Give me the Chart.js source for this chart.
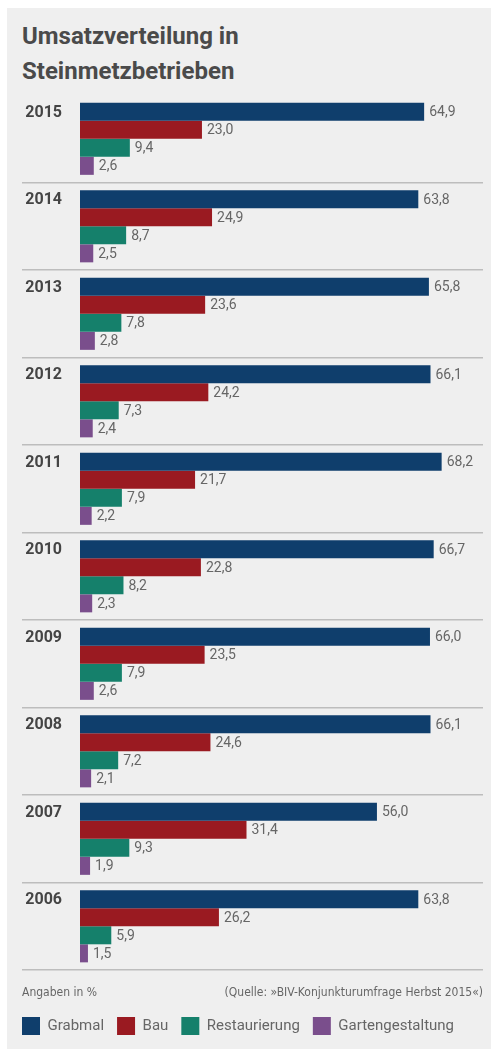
<!DOCTYPE html>
<html lang="de">
<head>
<meta charset="utf-8">
<script src="https://cdn.jsdelivr.net/npm/chart.js@4.4.1/dist/chart.umd.min.js"></script>
<style>
  html, body { margin: 0; padding: 0; background: #fff; }
  body { width: 491px; height: 1055px; position: relative; overflow: hidden; }
  #panel { position: absolute; left: 7px; top: 8px; width: 484px; height: 1041px; background: #efefef; }
  #title {
    position: absolute; left: 22px; top: 19px;
    font: bold 24px Roboto, "Open Sans", sans-serif; line-height: 35px; color: #4a4a4a;
  }
  #chart { position: absolute; left: 0; top: 0; }
</style>
</head>
<body>
<div id="panel"></div>
<div id="title">Umsatzverteilung in<br>Steinmetzbetrieben</div>
<canvas id="chart" width="491" height="1055"></canvas>
<script>
const years = ["2015", "2014", "2013", "2012", "2011", "2010", "2009", "2008", "2007", "2006"];
const grabmal = [64.9, 63.8, 65.8, 66.1, 68.2, 66.7, 66.0, 66.1, 56.0, 63.8];
const bau = [23.0, 24.9, 23.6, 24.2, 21.7, 22.8, 23.5, 24.6, 31.4, 26.2];
const restaurierung = [9.4, 8.7, 7.8, 7.3, 7.9, 8.2, 7.9, 7.2, 9.3, 5.9];
const garten = [2.6, 2.5, 2.8, 2.4, 2.2, 2.3, 2.6, 2.1, 1.9, 1.5];
const footLeft = "Angaben in %";
const footRight = "(Quelle: »BIV-Konjunkturumfrage Herbst 2015«)";

const textGrey = "#666";
const smallFont = '"Liberation Sans Narrow", "DejaVu Sans Condensed", sans-serif';

// value labels right of each bar, german decimal comma
const valueLabels = {
  id: "valueLabels",
  afterDatasetsDraw(chart) {
    const { ctx } = chart;
    ctx.save();
    ctx.font = "14px Roboto, sans-serif";
    ctx.fillStyle = textGrey;
    ctx.textAlign = "left";
    ctx.textBaseline = "middle";
    chart.data.datasets.forEach((ds, i) => {
      chart.getDatasetMeta(i).data.forEach((bar, j) => {
        const txt = ds.data[j].toFixed(1).replace(".", ",");
        ctx.fillText(txt, bar.x + 5, bar.y + 1);
      });
    });
    ctx.restore();
  },
};

const footnote = {
  id: "footnote",
  afterDraw(chart) {
    const { ctx, chartArea } = chart;
    const y = chartArea.bottom + 23;
    ctx.save();
    ctx.font = "12px " + smallFont;
    ctx.fillStyle = textGrey;
    ctx.textBaseline = "middle";
    ctx.textAlign = "left";
    ctx.fillText(footLeft, 22, y);
    ctx.textAlign = "right";
    ctx.fillText(footRight, chartArea.right, y);
    ctx.restore();
  },
};

new Chart(document.getElementById("chart"), {
  type: "bar",
  data: {
    labels: years,
    datasets: [
      { label: "Grabmal", data: grabmal, backgroundColor: "#0f3e6c" },
      { label: "Bau", data: bau, backgroundColor: "#9a1a21" },
      { label: "Restaurierung", data: restaurierung, backgroundColor: "#15806b" },
      { label: "Gartengestaltung", data: garten, backgroundColor: "#7a4e8c" },
    ],
  },
  options: {
    indexAxis: "y",
    responsive: false,
    devicePixelRatio: 1,
    animation: false,
    layout: { padding: { top: 95, left: 9, right: 8, bottom: 10 } },
    datasets: { bar: { barPercentage: 1, categoryPercentage: 0.825 } },
    scales: {
      x: {
        min: 0,
        max: 76,
        grid: { display: false },
        border: { display: false },
        ticks: { display: false },
        afterFit: (s) => { s.height = 34; },
      },
      y: {
        afterFit: (s) => { s.width = 71; },
        border: { display: false },
        grid: {
          offset: true,
          tickLength: 58,
          lineWidth: 1.5,
          color: (c) => (c.index === 0 ? "rgba(0,0,0,0)" : "#bdbdbd"),
        },
        ticks: {
          crossAlign: "near",
          padding: -40,
          labelOffset: -26,
          color: "#444",
          font: { family: "Roboto, sans-serif", size: 16, weight: "bold" },
        },
      },
    },
    plugins: {
      tooltip: { enabled: false },
      legend: {
        position: "bottom",
        align: "start",
        labels: {
          boxWidth: 18,
          boxHeight: 18,
          padding: 13,
          color: textGrey,
          font: { family: "Roboto, sans-serif", size: 15 },
        },
      },
    },
  },
  plugins: [valueLabels, footnote],
});
</script>
</body>
</html>
